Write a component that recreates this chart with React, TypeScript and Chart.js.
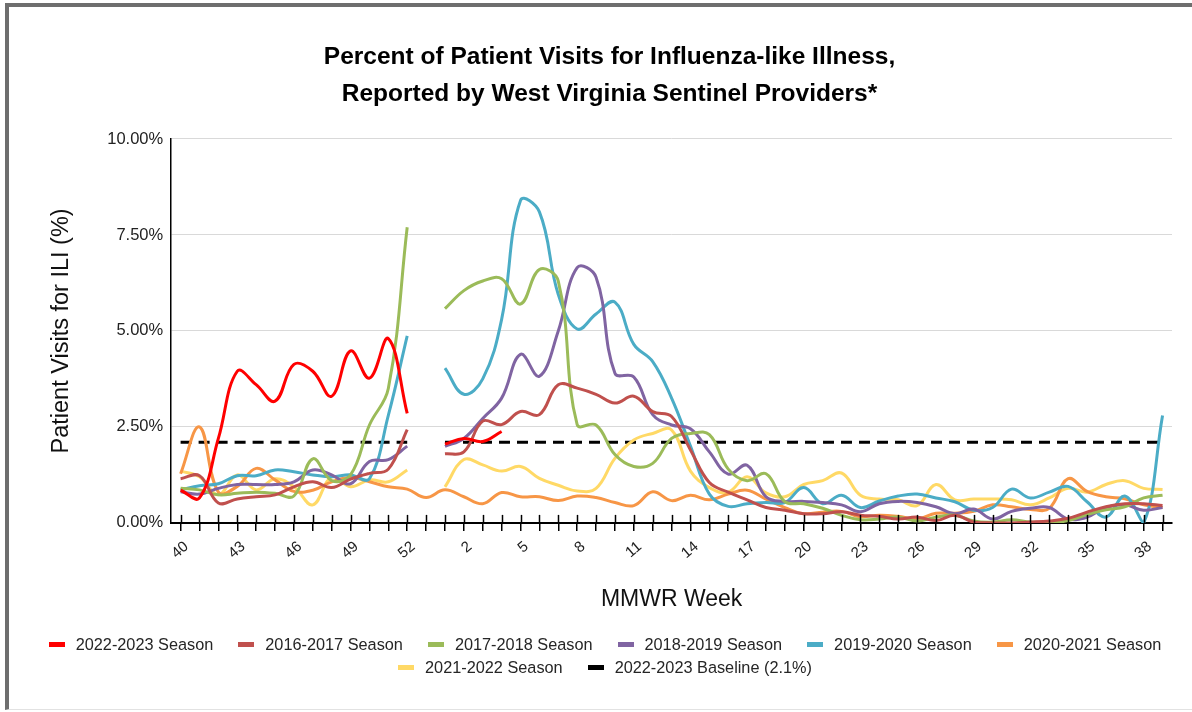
import React, { useEffect, useRef } from 'react';
import { Chart, registerables } from 'chart.js';

Chart.register(...registerables);

const FONT = "'Liberation Sans', Arial, Helvetica, sans-serif";

const titleLines = [
  'Percent of Patient Visits for Influenza-like Illness,',
  'Reported by West Virginia Sentinel Providers*',
];
const xAxisTitle = 'MMWR Week';
const yAxisTitle = 'Patient Visits for ILI (%)';

const weeks = [
  '40', '41', '42', '43', '44', '45', '46', '47', '48', '49', '50', '51', '52', '53',
  '1', '2', '3', '4', '5', '6', '7', '8', '9', '10', '11', '12', '13', '14', '15', '16',
  '17', '18', '19', '20', '21', '22', '23', '24', '25', '26', '27', '28', '29', '30', '31',
  '32', '33', '34', '35', '36', '37', '38', '39',
];

const yTicks = [0, 2.5, 5, 7.5, 10];

const season2223 = [
  0.85, 0.65, 2.2, 3.95, 3.6, 3.17, 4.13, 3.95, 3.3, 4.48, 3.77, 4.8, 2.85, null,
  2.05, 2.2, 2.12, 2.38, null, null, null, null, null, null, null, null, null, null, null, null,
  null, null, null, null, null, null, null, null, null, null, null, null, null, null, null,
  null, null, null, null, null, null, null, null,
];
const season1617 = [
  1.15, 1.23, 0.52, 0.62, 0.68, 0.73, 0.94, 1.07, 0.92, 1.14, 1.29, 1.4, 2.43, null,
  1.8, 1.85, 2.65, 2.56, 2.9, 2.82, 3.6, 3.51, 3.35, 3.12, 3.3, 2.9, 2.77, 1.9, 1.05, 0.8,
  0.6, 0.4, 0.33, 0.24, 0.24, 0.29, 0.2, 0.17, 0.1, 0.15, 0.06, 0.2, 0.02, 0.0, 0.0,
  0.02, 0.05, 0.12, 0.28, 0.42, 0.5, 0.5, 0.45,
];
const season1718 = [
  0.9, 0.86, 0.73, 0.77, 0.8, 0.77, 0.7, 1.67, 1.1, 1.25, 2.55, 3.5, 7.7, null,
  5.58, 6.05, 6.3, 6.36, 5.7, 6.6, 6.3, 2.56, 2.55, 1.78, 1.47, 1.55, 2.2, 2.33, 2.3, 1.4,
  1.1, 1.28, 0.55, 0.5, 0.38, 0.2, 0.08, 0.1, 0.15, 0.05, 0.15, 0.2, 0.05, 0.02, 0.08,
  0.02, 0.0, 0.06, 0.22, 0.34, 0.42, 0.65, 0.72,
];
const season1819 = [
  0.81, 0.75, 0.9, 1.0, 1.0, 1.0, 1.07, 1.38, 1.25, 1.02, 1.6, 1.65, 2.0, null,
  1.99, 2.2, 2.72, 3.25, 4.39, 3.82, 5.0, 6.65, 6.4, 3.9, 3.8, 2.82, 2.55, 2.45, 1.85, 1.27,
  1.5, 0.68, 0.56, 0.56, 0.53, 0.47, 0.29, 0.5, 0.56, 0.53, 0.42, 0.24, 0.36, 0.1, 0.3,
  0.38, 0.4, 0.1, 0.15, 0.4, 0.47, 0.33, 0.4,
];
const season1920 = [
  0.86, 0.97, 1.02, 1.23, 1.23, 1.38, 1.33, 1.25, 1.2, 1.25, 1.15, 2.8, 4.87, null,
  4.03, 3.35, 3.75, 5.3, 8.4, 8.1, 5.95, 5.05, 5.44, 5.75, 4.65, 4.2, 3.25, 2.0, 0.75, 0.43,
  0.5, 0.53, 0.53, 0.92, 0.5, 0.72, 0.4, 0.57, 0.7, 0.75, 0.65, 0.55, 0.33, 0.4, 0.88,
  0.65, 0.8, 0.95, 0.55, 0.15, 0.7, 0.0, 2.8,
];
const season2021 = [
  1.28, 2.5, 0.8, 0.95, 1.42, 1.12, 0.82, 0.85, 1.07, 1.18, 1.07, 0.94, 0.88, 0.66,
  0.86, 0.68, 0.5, 0.79, 0.68, 0.68, 0.58, 0.7, 0.66, 0.53, 0.45, 0.81, 0.58, 0.72, 0.6, 0.75,
  0.85, 0.62, 0.4, 0.24, 0.28, 0.3, 0.16, 0.2, 0.17, 0.1, 0.25, 0.25, 0.3, 0.47, 0.42,
  0.35, 0.38, 1.15, 0.82, 0.68, 0.63, 0.47, 0.4,
];
const season2122 = [
  1.35, 1.2, 0.73, 1.25, 0.86, 1.15, 0.94, 0.47, 1.2, 0.94, 1.12, 1.07, 1.38, null,
  0.94, 1.65, 1.51, 1.35, 1.47, 1.16, 0.98, 0.83, 0.9, 1.68, 2.16, 2.33, 2.42, 1.35, 0.92, 0.8,
  1.2, 0.78, 0.68, 1.0, 1.1, 1.3, 0.72, 0.62, 0.6, 0.45, 1.0, 0.6, 0.62, 0.62, 0.6,
  0.47, 0.65, 0.9, 0.8, 1.0, 1.1, 0.9, 0.87,
];
const baseline = [
  2.1, 2.1, 2.1, 2.1, 2.1, 2.1, 2.1, 2.1, 2.1, 2.1, 2.1, 2.1, 2.1, null,
  2.1, 2.1, 2.1, 2.1, 2.1, 2.1, 2.1, 2.1, 2.1, 2.1, 2.1, 2.1, 2.1, 2.1, 2.1, 2.1,
  2.1, 2.1, 2.1, 2.1, 2.1, 2.1, 2.1, 2.1, 2.1, 2.1, 2.1, 2.1, 2.1, 2.1, 2.1,
  2.1, 2.1, 2.1, 2.1, 2.1, 2.1, 2.1, 2.1,
];

const seriesNames = [
  '2022-2023 Season', '2016-2017 Season', '2017-2018 Season', '2018-2019 Season',
  '2019-2020 Season', '2020-2021 Season', '2021-2022 Season', '2022-2023 Baseline (2.1%)',
];
const seriesColors = ['#FF0000', '#C0504D', '#9BBB59', '#8064A2', '#4BACC6', '#F79646', '#FFD966', '#000000'];
const seriesData = [season2223, season1617, season1718, season1819, season1920, season2021, season2122, baseline];
const legendRowSizes = [6, 2];

const crossTicks = {
  id: 'crossTicks',
  afterDraw(chart: any) {
    const xs = chart.scales.x;
    const ctx = chart.ctx;
    const bottom = chart.chartArea.bottom;
    ctx.save();
    ctx.strokeStyle = '#000';
    ctx.lineWidth = 1.5;
    xs.ticks.forEach((_t: any, i: number) => {
      const px = Math.round(xs.getPixelForTick(i)) + 0.5;
      ctx.beginPath();
      ctx.moveTo(px, bottom - 8);
      ctx.lineTo(px, bottom);
      ctx.stroke();
    });
    ctx.restore();
  },
};

export default function App() {
  const ref = useRef<HTMLCanvasElement | null>(null);

  useEffect(() => {
    if (!ref.current) return;
    Chart.defaults.font.family = FONT;
    const datasets = seriesData.map((d, i) => ({
      label: seriesNames[i],
      data: d,
      borderColor: seriesColors[i],
      backgroundColor: seriesColors[i],
      borderWidth: 3,
      borderDash: i === 7 ? [11, 7] : [],
      pointRadius: 0,
      pointHoverRadius: 0,
      tension: i === 7 ? 0 : 0.4,
      spanGaps: false,
      fill: false,
    }));
    const chart = new Chart(ref.current, {
      type: 'line',
      data: { labels: weeks, datasets },
      plugins: [crossTicks],
      options: {
        responsive: false,
        animation: false,
        devicePixelRatio: 1,
        layout: { padding: { left: 47, right: 20, top: 0, bottom: 99 } },
        plugins: {
          legend: { display: false },
          tooltip: { enabled: false },
          title: {
            display: true,
            text: titleLines,
            color: '#000',
            font: { size: 24.5, weight: 'bold', lineHeight: 1.51, family: FONT },
            padding: { top: 39, bottom: 26 },
          },
        },
        scales: {
          x: {
            type: 'category',
            offset: true,
            grid: {
              display: true,
              drawOnChartArea: false,
              drawTicks: true,
              tickLength: 8,
              color: '#000',
              lineWidth: 1.5,
            },
            border: { display: true, color: '#000', width: 2 },
            ticks: {
              autoSkip: false,
              maxRotation: 40,
              minRotation: 40,
              color: '#222',
              padding: 7,
              labelOffset: 6,
              font: { size: 15, family: FONT },
              callback: (_v: any, i: number) => (i % 3 === 0 ? weeks[i] : ''),
            },
            title: {
              display: true,
              text: xAxisTitle,
              color: '#111',
              font: { size: 23, family: FONT },
              padding: { top: 16, bottom: 0 },
            },
          },
          y: {
            min: 0,
            max: 10,
            afterBuildTicks: (s: any) => {
              s.ticks = yTicks.map((v) => ({ value: v }));
            },
            grid: { color: '#D9D9D9', lineWidth: 1, drawTicks: false },
            border: { display: true, color: '#000', width: 1.5 },
            ticks: {
              color: '#222',
              padding: 8,
              font: { size: 16.5, family: FONT },
              callback: (v: any) => Number(v).toFixed(2) + '%',
            },
            title: {
              display: true,
              text: yAxisTitle,
              color: '#111',
              font: { size: 23.5, family: FONT },
              padding: { top: 0, bottom: 24 },
            },
          },
        },
      } as any,
    });
    return () => chart.destroy();
  }, []);

  const items = seriesNames.map((n, i) => ({ name: n, color: seriesColors[i] }));
  const rows: { name: string; color: string }[][] = [];
  let k = 0;
  legendRowSizes.forEach((s) => {
    rows.push(items.slice(k, k + s));
    k += s;
  });

  return (
    <div style={{ position: 'absolute', left: 0, top: 0, width: 1192, height: 712, overflow: 'hidden', background: '#fff', fontFamily: FONT }}>
      <div
        style={{
          position: 'absolute', left: 5, top: 3, width: 1200, height: 707, boxSizing: 'border-box',
          borderLeft: '4px solid #6e6e6e', borderTop: '4px solid #6e6e6e', borderBottom: '1px solid #e2e2e2',
        }}
      />
      <canvas ref={ref} width={1192} height={712} style={{ position: 'absolute', left: 0, top: 0, width: 1192, height: 712 }} />
      <div style={{ position: 'absolute', left: 0, top: 633, width: 1210, display: 'flex', flexDirection: 'column', alignItems: 'center' }}>
        {rows.map((row, ri) => (
          <div key={ri} style={{ display: 'flex', height: 23, alignItems: 'center' }}>
            {row.map((it, ii) => (
              <div key={ii} style={{ display: 'flex', alignItems: 'center', marginLeft: ii === 0 ? 0 : 25 }}>
                <span style={{ display: 'inline-block', width: 16, height: 5, background: it.color, marginRight: 11 }} />
                <span style={{ fontSize: 16.3, color: '#262626', whiteSpace: 'nowrap', lineHeight: '23px' }}>{it.name}</span>
              </div>
            ))}
          </div>
        ))}
      </div>
    </div>
  );
}
